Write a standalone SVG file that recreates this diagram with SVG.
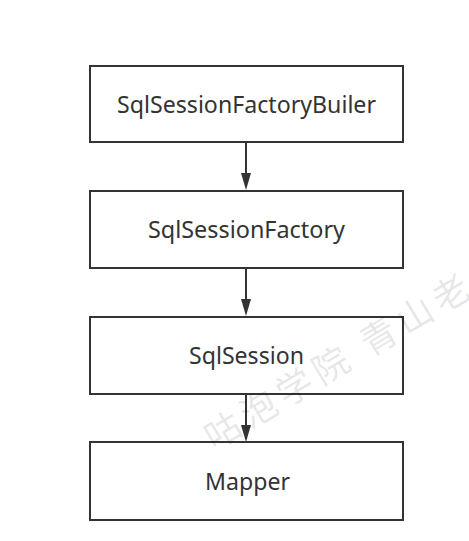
<svg xmlns="http://www.w3.org/2000/svg" width="469" height="541" viewBox="0 0 469 541">
<style>
.box{fill:#fff;stroke:#333;stroke-width:2}
.lbl{font-family:"Noto Sans","Open Sans","Liberation Sans",sans-serif;font-size:23px;fill:#333;text-anchor:middle}
.edge{stroke:#333;stroke-width:2;fill:none}
.wm{font-family:"Noto Sans CJK SC",sans-serif;font-size:36px;fill:#000;fill-opacity:0.1;letter-spacing:6px}
</style>
<rect width="469" height="541" fill="#fff"/>
<g id="connectors">
<line class="edge" x1="246" y1="143" x2="246" y2="174"/><path d="M241,173 L251,173 L246,190 Z" fill="#333"/>
<line class="edge" x1="246" y1="268" x2="246" y2="300"/><path d="M241,299 L251,299 L246,316 Z" fill="#333"/>
<line class="edge" x1="246" y1="394" x2="246" y2="426"/><path d="M241,425 L251,425 L246,442 Z" fill="#333"/>
</g>
<g id="n1"><rect class="box" x="90" y="66" width="313" height="76"/><text class="lbl" x="246.5" y="113" textLength="259" lengthAdjust="spacingAndGlyphs">SqlSessionFactoryBuiler</text></g>
<g id="n2"><rect class="box" x="90" y="191" width="313" height="77"/><text class="lbl" x="246.5" y="238" textLength="197" lengthAdjust="spacingAndGlyphs">SqlSessionFactory</text></g>
<g id="n3"><rect class="box" x="90" y="317" width="313" height="77"/><text class="lbl" x="246.5" y="364" textLength="115" lengthAdjust="spacingAndGlyphs">SqlSession</text></g>
<g id="n4"><rect class="box" x="90" y="442" width="313" height="78"/><text class="lbl" x="247.5" y="490" textLength="85" lengthAdjust="spacingAndGlyphs">Mapper</text></g>
<text class="wm" x="0" y="0" transform="translate(214,451) rotate(-31)">咕泡学院 青山老</text>
</svg>
